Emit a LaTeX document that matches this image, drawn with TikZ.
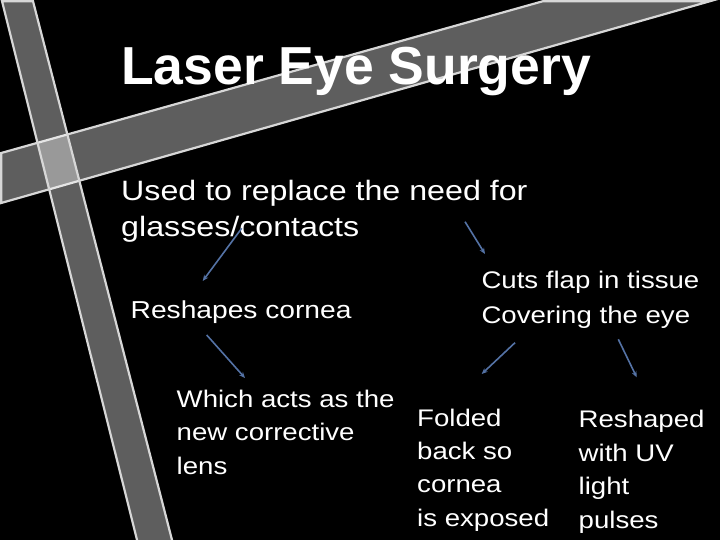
\documentclass[tikz,border=0pt]{standalone}
\usepackage{fontspec}
\setmainfont{Liberation Sans}
\newfontfamily\bodyf[FakeStretch=1.15]{Liberation Sans}
\usetikzlibrary{arrows.meta}
\definecolor{bandline}{RGB}{215,215,215}
\definecolor{arrowc}{RGB}{84,114,165}
\begin{document}
\begin{tikzpicture}[x=1pt,y=-1pt,
  band/.style={fill=white, fill opacity=0.37, draw=bandline, line width=2.2pt, line join=miter},
  txt/.style={text=white, inner sep=0pt, anchor=base west},
  ttl/.style={txt, font=\fontsize{53.5}{60}\selectfont\bfseries},
  big/.style={txt, font=\bodyf\fontsize{28}{34}\selectfont},
  mid/.style={txt, font=\bodyf\fontsize{24.5}{30}\selectfont},
  sml/.style={txt, font=\bodyf\fontsize{24}{30}\selectfont},
  conn/.style={draw=arrowc, line width=1.6pt, -{Stealth[length=6pt,width=5pt]}}]
\fill[black] (0,0) rectangle (720,540);
\useasboundingbox (0,0) rectangle (720,540);
\begin{scope}
  \clip (0,0) rectangle (720,540);
  \path[band] (1.2,153) -- (543,1.2) -- (710,1.2) -- (1.2,203) -- cycle;
  \path[band] (2,1.2) -- (33,1.2) -- (173.3,545) -- (138.3,545) -- cycle;
\end{scope}
% title
\node[ttl] (title) at (121,85) {Laser Eye Surgery};
% main statement
\node[big] (used1) at (121,200.5) {Used to replace the need for};
\node[big] (used2) at (121,236.7) {glasses/contacts};
% left branch
\node[mid] (resh) at (130.5,318.3) {Reshapes cornea};
\node[sml] (which1) at (176.5,407.3) {Which acts as the};
\node[sml] (which2) at (176.5,440.7) {new corrective};
\node[sml] (which3) at (176.5,474) {lens};
% right branch
\node[sml] (cuts1) at (481.3,288.3) {Cuts flap in tissue};
\node[sml] (cuts2) at (481.3,323.3) {Covering the eye};
\node[sml] (fold1) at (417,426) {Folded};
\node[sml] (fold2) at (417,459.3) {back so};
\node[sml] (fold3) at (417,492.5) {cornea};
\node[sml] (fold4) at (417,526) {is exposed};
\node[sml] (resd1) at (578.5,427.3) {Reshaped};
\node[sml] (resd2) at (578.5,461) {with UV};
\node[sml] (resd3) at (578.5,494.5) {light};
\node[sml] (resd4) at (578.5,528) {pulses};
% connector ends
\coordinate (a1s) at (241.7,228.3); \coordinate (a1e) at (202.7,281);
\coordinate (a2s) at (465,221.7);   \coordinate (a2e) at (485,254);
\coordinate (a3s) at (206.7,335);   \coordinate (a3e) at (245,378);
\coordinate (a4s) at (515,342.7);   \coordinate (a4e) at (481.7,374);
\coordinate (a5s) at (618.3,339.3); \coordinate (a5e) at (636.7,377.3);
\draw[conn] (a1s) -- (a1e);
\draw[conn] (a2s) -- (a2e);
\draw[conn] (a3s) -- (a3e);
\draw[conn] (a4s) -- (a4e);
\draw[conn] (a5s) -- (a5e);
\end{tikzpicture}
\end{document}
